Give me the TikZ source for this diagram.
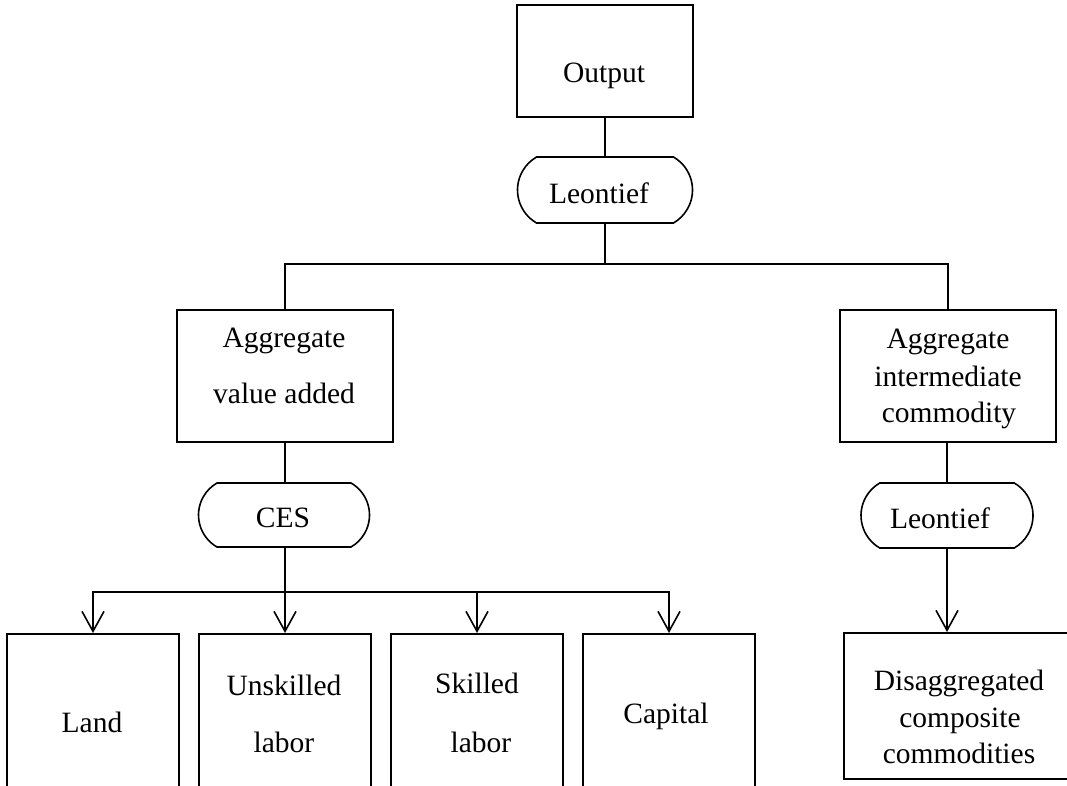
\documentclass[tikz,border=0pt]{standalone}
\usepackage{fontspec}
\setmainfont{Liberation Serif}
\usetikzlibrary{arrows.meta,shapes.misc}
\begin{document}
\begin{tikzpicture}[x=1pt,y=-1pt,
  line width=2pt,
  box/.style={draw,rectangle,inner sep=0pt,line width=2pt},
  oval/.style={draw,rounded rectangle,rounded rectangle arc length=120,inner sep=0pt,line width=1.6pt},
  txt/.style={anchor=base,inner sep=0pt,font=\fontsize{29.5}{36.5}\selectfont},
  arr/.style={-{Straight Barb[length=20pt,width=22pt,line width=1.6pt]}}]
\useasboundingbox (0,0) rectangle (1067,786);
\clip (0,0) rectangle (1067,786);
% boxes
\node[box,minimum width=176pt,minimum height=112pt] (out) at (605,61) {};
\node[oval,minimum width=175pt,minimum height=66pt] (leo1) at (605,190) {};
\node[box,minimum width=216pt,minimum height=132pt] (va) at (285,376) {};
\node[box,minimum width=216pt,minimum height=132pt] (ai) at (948,376) {};
\node[oval,minimum width=171pt,minimum height=64pt] (ces) at (284,515) {};
\node[oval,minimum width=172pt,minimum height=65pt] (leo2) at (947,515.5) {};
\node[box,minimum width=172pt,minimum height=180pt,anchor=north] (land) at (93,633) {};
\node[box,minimum width=172pt,minimum height=180pt,anchor=north] (unsk) at (285,633) {};
\node[box,minimum width=172pt,minimum height=180pt,anchor=north] (sk) at (477,633) {};
\node[box,minimum width=172pt,minimum height=180pt,anchor=north] (cap) at (669,633) {};
\node[box,minimum width=232pt,minimum height=146pt,anchor=north west] (dis) at (843,632) {};
% texts
\node[txt] at (604,83) {Output};
\node[txt] at (599,204) {Leontief};
\node[txt] at (284,347) {Aggregate};
\node[txt] at (284,403) {value added};
\node[txt] at (948,348) {Aggregate};
\node[txt] at (948,386) {intermediate};
\node[txt] at (949,422) {commodity};
\node[txt] at (283,527) {CES};
\node[txt] at (940,528) {Leontief};
\node[txt] at (92,732) {Land};
\node[txt] at (284,695) {Unskilled};
\node[txt] at (284,752) {labor};
\node[txt] at (477,693) {Skilled};
\node[txt] at (481,752) {labor};
\node[txt] at (666,723) {Capital};
\node[txt] at (959,690) {Disaggregated};
\node[txt] at (960,727) {composite};
\node[txt] at (959,763) {commodities};
% connectors
\coordinate (j1) at (605,264);
\coordinate (j2) at (285,592);
\draw (out.south) -- (leo1.north);
\draw (leo1.south) -- (j1);
\draw (va.north) |- (j1) -| (ai.north);
\draw (va.south) -- (va.south |- ces.north);
\draw (va.south |- ces.south) -- (j2);
\draw[arr] (j2) -| (land.north);
\draw[arr] (j2) -- (unsk.north);
\draw[arr] (j2) -| (sk.north);
\draw[arr] (j2) -| (cap.north);
\draw (ai.south -| leo2.north) -- (leo2.north);
\draw[arr] (leo2.south) -- (leo2.south |- dis.north);
\end{tikzpicture}
\end{document}
